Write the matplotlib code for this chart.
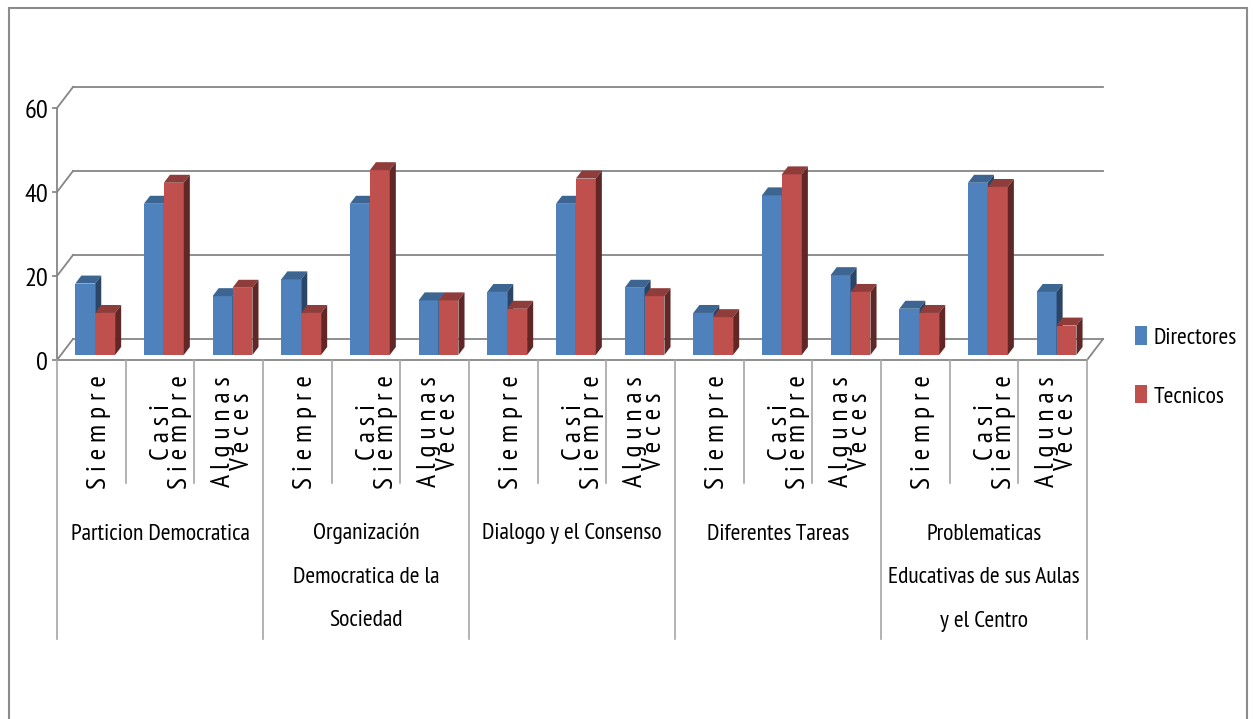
import matplotlib
matplotlib.use("Agg")
import matplotlib.pyplot as plt
from matplotlib.patches import Polygon, Rectangle, Patch

plt.rcParams['font.family'] = ['PT Sans Narrow', 'DejaVu Sans']

# ---------------- data ----------------
groups = ["Particion Democratica",
          "Organización\nDemocratica de la\nSociedad",
          "Dialogo y el Consenso",
          "Diferentes Tareas",
          "Problematicas\nEducativas de sus Aulas\ny el Centro"]
subcats = ["S i e m p r e", "C a s i\nS i e m p r e", "A l g u n a s\nV e c e s"]
series_names = ["Directores", "Tecnicos"]
directores = [17, 36, 14, 18, 36, 13, 15, 36, 16, 10, 38, 19, 11, 41, 15]
tecnicos = [10, 41, 16, 10, 44, 13, 11, 42, 14, 9, 43, 15, 10, 40, 7]
yticks = [0, 20, 40, 60]

# ---------------- styling ----------------
W, H = 1253, 719
X0PX, XSCALE = 57, 68.67     # px of category 0, px per category
Y0PX, YSCALE = 360, 4.2      # px of value 0 (from top), px per unit
DX, DY = 16 / XSCALE, 21 / YSCALE   # depth offsets (data units)
D0, D1 = 0.24, 0.62          # bar front/back depth fractions
BW = 0.29                    # bar width (categories)
FS = 17
SUB_FS = 20
grid_c = "#868686"
sep_c = "#a6a6a6"
cols_front = ["#4F81BD", "#C0504D"]
cols_top = ["#3D6591", "#8F3D3B"]
cols_side = ["#2A4566", "#612727"]

fig = plt.figure(figsize=(W / 100, H / 100), dpi=100)
ax = fig.add_axes([0, 0, 1, 1])
ax.set_xlim(-X0PX / XSCALE, (W - X0PX) / XSCALE)
ax.set_ylim((Y0PX - H) / YSCALE, Y0PX / YSCALE)
ax.axis("off")


def px2x(px):
    return (px - X0PX) / XSCALE


def py2y(py):
    return (Y0PX - py) / YSCALE


ncat = len(directores)

# outer border
ax.add_patch(Rectangle((px2x(9), py2y(760)), (1247 - 9) / XSCALE, (760 - 8) / YSCALE,
                       fill=False, edgecolor="#8c8c8c", lw=1.5, clip_on=False))

# back wall gridlines + side wall diagonals + tick marks
for v in yticks:
    ax.plot([DX, ncat + DX], [v + DY, v + DY], color=grid_c, lw=1.3, zorder=1)
    ax.plot([0, DX], [v, v + DY], color=grid_c, lw=1.3, zorder=1)
    ax.plot([px2x(53), 0], [v, v], color=grid_c, lw=1.3, zorder=1)
    ax.text(px2x(48), v - 0.9, str(v), ha="right", va="center", fontsize=19, color="black")
# front vertical axis
ax.plot([0, 0], [0, yticks[-1]], color=grid_c, lw=1.3, zorder=1)
# floor
ax.plot([0, ncat], [0, 0], color=grid_c, lw=1.3, zorder=1)
ax.plot([ncat, ncat + DX], [0, DY], color=grid_c, lw=1.3, zorder=1)

# bars
b0 = D0 * DY
ddx, ddy = (D1 - D0) * DX, (D1 - D0) * DY
for s, vals in enumerate([directores, tecnicos]):
    lefts = [i + 0.5 + D0 * DX - BW + s * BW for i in range(ncat)]
    ax.bar(lefts, vals, width=BW, bottom=b0, align="edge", color=cols_front[s],
           linewidth=0, zorder=3 + s * 0.5, label=series_names[s])
for i in range(ncat):
    for s, vals in enumerate([directores, tecnicos]):
        xl = i + 0.5 + D0 * DX - BW + s * BW
        v = vals[i]
        top = b0 + v
        z = 3 + s * 0.5 + 0.1
        ax.add_patch(Polygon([(xl, top), (xl + BW, top), (xl + BW + ddx, top + ddy),
                              (xl + ddx, top + ddy)], closed=True,
                             facecolor=cols_top[s], edgecolor="none", zorder=z))
        ax.add_patch(Polygon([(xl + BW, b0), (xl + BW, top), (xl + BW + ddx, top + ddy),
                              (xl + BW + ddx, b0 + ddy)], closed=True,
                             facecolor=cols_side[s], edgecolor="none", zorder=z))

# category table below the floor
inner_bot = py2y(483)
group_bot = py2y(639)
for k in range(ncat + 1):
    if k % 3 == 0:
        ax.plot([k, k], [0, group_bot], color=sep_c, lw=1.2, zorder=1)
    else:
        ax.plot([k, k], [0, inner_bot], color=sep_c, lw=1.2, zorder=1)

sub_off = [0.11, 0.16, 0.06]
for i in range(ncat):
    j = i % 3
    ax.text(i + 0.5 + sub_off[j], py2y(432), subcats[j], rotation=90, ha="center",
            va="center", multialignment="center", fontsize=SUB_FS, linespacing=0.72)

for g, name in enumerate(groups):
    for li, line in enumerate(name.split("\n")):
        ax.text(3 * g + 1.5, py2y(534 + 43.5 * li), line, ha="center", va="center",
                fontsize=FS)

# legend
handles = [Patch(facecolor=c, edgecolor="none") for c in cols_front]
ax.legend(handles, series_names, loc="center left",
          bbox_to_anchor=(1135 / W, 1 - 367 / H), bbox_transform=fig.transFigure,
          frameon=False, fontsize=FS, handlelength=0.5, handleheight=0.8,
          handletextpad=0.3, labelspacing=1.55, borderpad=0, borderaxespad=0)

fig.savefig("out.png", dpi=100)
